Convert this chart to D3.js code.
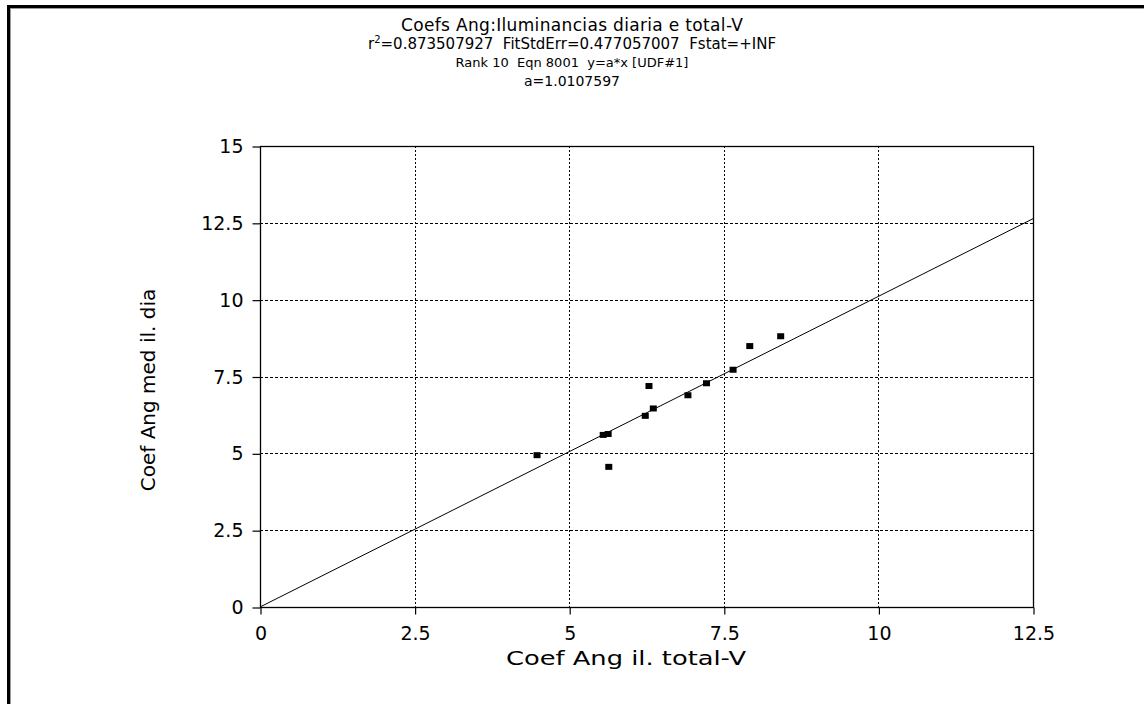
<!DOCTYPE html>
<html>
<head>
<meta charset="utf-8">
<script src="https://cdn.jsdelivr.net/npm/d3@7"></script>
<style>
  html, body { margin: 0; padding: 0; background: #fff; }
  svg { display: block; }
  text { font-family: "DejaVu Sans", sans-serif; fill: #000; }
</style>
</head>
<body>
<svg id="chart" width="1144" height="704"></svg>
<script>
// Observed pairs: total-V slope (x) vs daily-mean slope (y)
const xValues = [4.48, 5.55, 5.63, 5.64, 6.23, 6.36, 6.29, 6.92, 7.22, 7.65, 7.92, 8.42];
const yValues = [4.94, 5.60, 5.63, 4.56, 6.22, 6.46, 7.19, 6.89, 7.28, 7.72, 8.49, 8.81];

// Fitted model y = a*x
const fitA = 1.0107597;

const xTicks = [0, 2.5, 5, 7.5, 10, 12.5];
const yTicks = [0, 2.5, 5, 7.5, 10, 12.5, 15];
const xDomain = [0, 12.5];
const yDomain = [0, 15];

const titleLines = [
  "Coefs Ang:Iluminancias diaria e total-V",
  null, // r² line, built with a superscript below
  "Rank 10  Eqn 8001  y=a*x [UDF#1]",
  "a=1.0107597"
];
const r2Text = "0.873507927";
const statText = "  FitStdErr=0.477057007  Fstat=+INF";
const xLabel = "Coef Ang il. total-V";
const yLabel = "Coef Ang med il. dia";

const svg = d3.select("#chart");

const plot = { left: 260, right: 1033, top: 146, bottom: 607 };
const x = d3.scaleLinear().domain(xDomain).range([plot.left, plot.right]);
const y = d3.scaleLinear().domain(yDomain).range([plot.bottom, plot.top]);

// Frame edges of the window
svg.append("rect").attr("x", 7).attr("y", 5).attr("width", 1137).attr("height", 3).attr("fill", "#000");
svg.append("rect").attr("x", 7).attr("y", 5).attr("width", 3).attr("height", 699).attr("fill", "#000");
svg.append("line").attr("x1", 10).attr("x2", 1144).attr("y1", 8.5).attr("y2", 8.5).attr("stroke", "#999");
svg.append("line").attr("x1", 10.5).attr("x2", 10.5).attr("y1", 8).attr("y2", 704).attr("stroke", "#999");

// Grid lines (dotted), skipping the ones on the frame
const gridY = yTicks.filter(v => v > yDomain[0] && v < yDomain[1]);
const gridX = xTicks.filter(v => v > xDomain[0] && v < xDomain[1]);
svg.append("g").selectAll("line").data(gridY).join("line")
  .attr("x1", plot.left).attr("x2", plot.right)
  .attr("y1", d => Math.round(y(d)) + 0.5).attr("y2", d => Math.round(y(d)) + 0.5)
  .attr("stroke", "#000").attr("stroke-width", 1).attr("stroke-dasharray", "3,2");
svg.append("g").selectAll("line").data(gridX).join("line")
  .attr("y1", plot.top).attr("y2", plot.bottom)
  .attr("x1", d => Math.round(x(d)) + 0.5).attr("x2", d => Math.round(x(d)) + 0.5)
  .attr("stroke", "#000").attr("stroke-width", 1).attr("stroke-dasharray", "2,2");

// Plot box
svg.append("rect")
  .attr("x", plot.left + 0.5).attr("y", plot.top + 0.5)
  .attr("width", plot.right - plot.left).attr("height", plot.bottom - plot.top)
  .attr("fill", "none").attr("stroke", "#000").attr("stroke-width", 1.3);

// Axes
const xAxis = d3.axisBottom(x).tickValues(xTicks).tickSize(7).tickPadding(12)
  .tickFormat(d => String(d));
const yAxis = d3.axisLeft(y).tickValues(yTicks).tickSize(8).tickPadding(9)
  .tickFormat(d => String(d));

const gx = svg.append("g").attr("transform", `translate(0.5,${plot.bottom + 0.5})`).call(xAxis);
const gy = svg.append("g").attr("transform", `translate(${plot.left + 0.5},0.5)`).call(yAxis);
[gx, gy].forEach(g => {
  g.select(".domain").remove();
  g.selectAll(".tick line").attr("stroke", "#000").attr("stroke-width", 1.2);
  g.selectAll(".tick text").attr("font-size", 19).attr("font-family", "DejaVu Sans").attr("fill", "#000");
});
gx.selectAll(".tick text").attr("dy", "0.71em");

// Fitted line y = a*x
const fitLine = d3.line().x(d => x(d)).y(d => y(fitA * d));
svg.append("path").datum(xDomain)
  .attr("d", fitLine)
  .attr("fill", "none").attr("stroke", "#000").attr("stroke-width", 1);

// Data points as small filled squares
const pts = xValues.map((v, i) => ({ x: v, y: yValues[i] }));
svg.append("g").selectAll("rect").data(pts).join("rect")
  .attr("x", d => x(d.x) - 3.5).attr("y", d => y(d.y) - 3)
  .attr("width", 7).attr("height", 6).attr("fill", "#000");

// Title block
const tx = 572;
svg.append("text").attr("x", tx).attr("y", 31).attr("text-anchor", "middle")
  .attr("font-size", 17).attr("textLength", 342).attr("lengthAdjust", "spacing")
  .text(titleLines[0]);
const r2 = svg.append("text").attr("x", tx).attr("y", 49).attr("text-anchor", "middle")
  .attr("font-size", 15).attr("xml:space", "preserve");
r2.append("tspan").text("r");
r2.append("tspan").attr("font-size", 10).attr("dy", -6).text("2");
r2.append("tspan").attr("dy", 6).text("=" + r2Text + statText);
svg.append("text").attr("x", tx).attr("y", 67).attr("text-anchor", "middle")
  .attr("font-size", 13).attr("xml:space", "preserve").text(titleLines[2]);
svg.append("text").attr("x", tx).attr("y", 86).attr("text-anchor", "middle")
  .attr("font-size", 14).text(titleLines[3]);

// Axis titles
svg.append("text").attr("x", 626).attr("y", 665).attr("text-anchor", "middle")
  .attr("font-size", 20).attr("textLength", 240).attr("lengthAdjust", "spacingAndGlyphs")
  .text(xLabel);
svg.append("text").attr("transform", "translate(155,390) rotate(-90)")
  .attr("text-anchor", "middle").attr("font-size", 20).text(yLabel);
</script>
</body>
</html>
